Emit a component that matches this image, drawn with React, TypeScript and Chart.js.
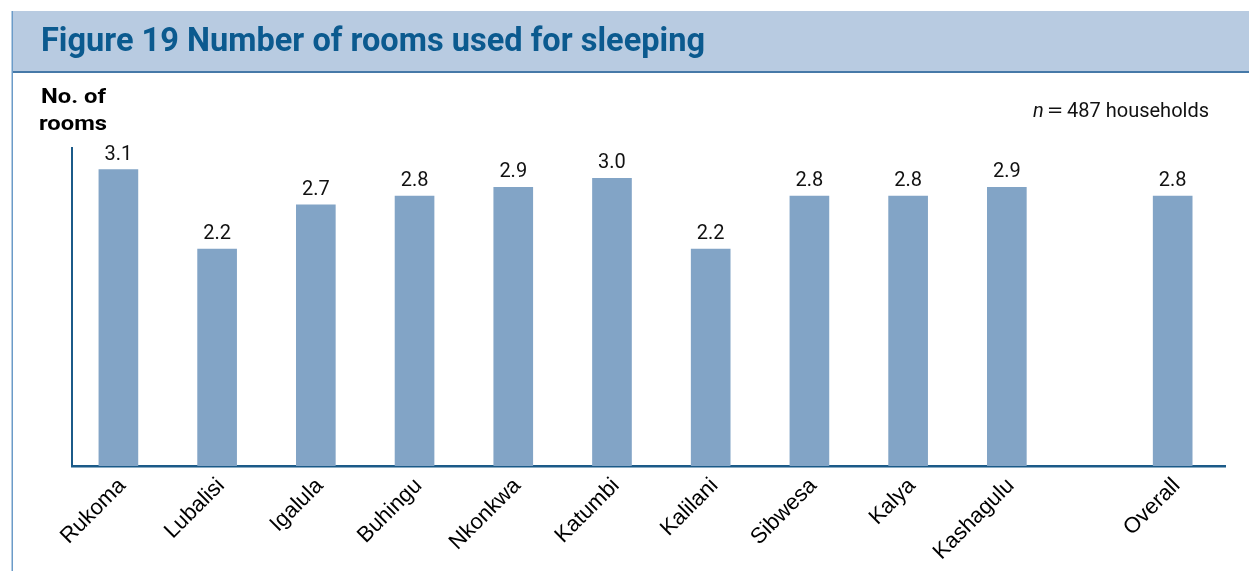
import React, { useEffect, useRef } from 'react';
import { Chart, registerables } from 'chart.js';

Chart.register(...registerables);

const TITLE = 'Figure 19 Number of rooms used for sleeping';
const Y_TITLE = ['No. of', 'rooms'];
const SAMPLE_NOTE = { symbol: 'n', text: '487 households' };

const categories = ['Rukoma', 'Lubalisi', 'Igalula', 'Buhingu', 'Nkonkwa', 'Katumbi', 'Kalilani', 'Sibwesa', 'Kalya', 'Kashagulu', 'Overall'];
const values = [3.1, 2.2, 2.7, 2.8, 2.9, 3.0, 2.2, 2.8, 2.8, 2.9, 2.8];

// layout: the "Overall" bar is set apart from the district bars by an extra gap
const OVERALL_GAP = 0.68;
const slots = categories.map((c, i) => i + (c === 'Overall' ? OVERALL_GAP : 0));

const W = 1249;
const H = 571;
const BAND_COLOR = '#b8cbe1';
const TITLE_COLOR = '#0b5a8f';
const AXIS_COLOR = '#1b5a88';
const BAR_COLOR = '#82a4c6';
const Y_BASE = -0.26;

const decorPlugin = {
  id: 'decor',
  beforeDraw(chart: any) {
    const ctx = chart.ctx as CanvasRenderingContext2D;
    ctx.save();
    ctx.fillStyle = '#ffffff';
    ctx.fillRect(0, 0, W, H);
    // title band
    ctx.fillStyle = BAND_COLOR;
    ctx.fillRect(12, 11, W - 12, 60);
    ctx.fillStyle = '#4679a8';
    ctx.fillRect(12, 71, W - 12, 2);
    // left rule
    ctx.fillStyle = '#6b9bc8';
    ctx.fillRect(11.5, 11, 1.5, H - 11);
    // title
    ctx.fillStyle = TITLE_COLOR;
    ctx.font = 'bold 33px Roboto, "Liberation Sans", sans-serif';
    ctx.textBaseline = 'alphabetic';
    ctx.textAlign = 'left';
    const tw = ctx.measureText(TITLE).width;
    ctx.save();
    ctx.translate(41, 51);
    ctx.scale(664 / tw, 1);
    ctx.fillText(TITLE, 0, 0);
    ctx.restore();
    // y title
    ctx.fillStyle = '#000000';
    ctx.font = 'bold 20px Roboto, "Liberation Sans", sans-serif';
    const y1 = ctx.measureText(Y_TITLE[0]).width;
    ctx.save();
    ctx.translate(41, 103);
    ctx.scale(65 / y1, 1);
    ctx.fillText(Y_TITLE[0], 0, 0);
    ctx.restore();
    const y2 = ctx.measureText(Y_TITLE[1]).width;
    ctx.save();
    ctx.translate(39, 130);
    ctx.scale(68 / y2, 1);
    ctx.fillText(Y_TITLE[1], 0, 0);
    ctx.restore();
    // sample note
    ctx.fillStyle = '#111111';
    ctx.font = '20px Roboto, "Liberation Sans", sans-serif';
    ctx.textAlign = 'right';
    ctx.fillText(SAMPLE_NOTE.text, 1209, 117);
    ctx.textAlign = 'center';
    ctx.save();
    ctx.translate(1055, 117);
    ctx.scale(1.5, 1);
    ctx.fillText('=', 0, 0);
    ctx.restore();
    ctx.textAlign = 'left';
    ctx.font = 'italic 20px Roboto, "Liberation Sans", sans-serif';
    ctx.fillText(SAMPLE_NOTE.symbol, 1033, 117);
    ctx.restore();
  },
};

const valueLabelPlugin = {
  id: 'valueLabels',
  afterDatasetsDraw(chart: any) {
    const ctx = chart.ctx as CanvasRenderingContext2D;
    const meta = chart.getDatasetMeta(0);
    ctx.save();
    ctx.fillStyle = '#111111';
    ctx.font = '20px Roboto, "Liberation Sans", sans-serif';
    ctx.textAlign = 'center';
    ctx.textBaseline = 'alphabetic';
    meta.data.forEach((el: any, i: number) => {
      ctx.fillText(values[i].toFixed(1), el.x, el.y - 10);
    });
    ctx.restore();
  },
};

export default function App() {
  const ref = useRef<HTMLCanvasElement | null>(null);
  useEffect(() => {
    if (!ref.current) return;
    const chart = new Chart(ref.current, {
      type: 'bar',
      data: {
        datasets: [
          {
            data: categories.map((_, i) => ({ x: slots[i], y: values[i] })),
            backgroundColor: BAR_COLOR,
            borderWidth: 0,
            barThickness: 39,
            base: Y_BASE,
          } as any,
        ],
      },
      options: {
        animation: false,
        responsive: false,
        devicePixelRatio: 1,
        layout: { padding: { left: 72, top: 148, right: 24, bottom: 0 } },
        plugins: { legend: { display: false }, tooltip: { enabled: false } },
        scales: {
          x: {
            type: 'linear',
            min: -0.47,
            max: 11.21,
            offset: false,
            grid: { display: false },
            border: { display: true, color: AXIS_COLOR, width: 2.5 },
            afterBuildTicks: (scale: any) => {
              scale.ticks = slots.map((v) => ({ value: v }));
            },
            afterFit: (scale: any) => {
              scale.height = H - 466;
            },
            ticks: {
              autoSkip: false,
              minRotation: 45,
              maxRotation: 45,
              padding: -1,
              labelOffset: 4,
              color: '#000000',
              font: { family: '"Liberation Sans", Arial, sans-serif', size: 22 },
              callback: (_v: any, i: number) => categories[i],
            },
          },
          y: {
            min: Y_BASE,
            max: 3.345,
            grid: { display: false },
            border: { display: true, color: AXIS_COLOR, width: 2 },
            ticks: { display: false },
            afterFit: (scale: any) => {
              scale.width = 0;
            },
          },
        },
      },
      plugins: [decorPlugin, valueLabelPlugin],
    } as any);
    return () => chart.destroy();
  }, []);
  return (
    <div style={{ position: 'absolute', left: 0, top: 0, width: W, height: H }}>
      <canvas ref={ref} width={W} height={H} style={{ display: 'block', width: W, height: H }} />
    </div>
  );
}
